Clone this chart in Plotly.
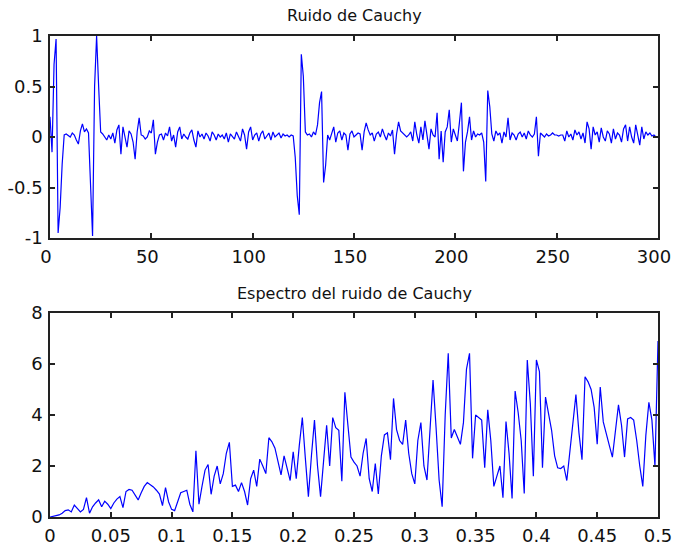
import plotly.graph_objects as go

# ---- data: top panel (Cauchy noise samples, n = 0..299) ----
noise_values = [
    0.20, -0.15, 0.72, 0.97, -0.95, -0.70, -0.27, 0.02, 0.03, 0.01,
    0.00, 0.04, 0.02, -0.03, -0.07, 0.06, 0.13, 0.05, 0.08, 0.04,
    -0.50, -0.98, 0.50, 1.00, 0.50, 0.05, 0.03, 0.00, -0.03, 0.02,
    -0.02, 0.04, -0.06, 0.07, 0.12, -0.17, 0.10, 0.00, -0.10, 0.06,
    0.03, -0.05, -0.22, 0.05, 0.19, 0.02, 0.01, -0.02, 0.00, 0.06,
    0.04, 0.17, -0.17, -0.05, 0.02, 0.03, -0.03, 0.04, 0.01, 0.10,
    -0.04, 0.02, -0.10, 0.05, 0.10, -0.02, 0.03, 0.00, -0.02, 0.04,
    0.07, -0.03, -0.10, 0.06, 0.00, 0.03, -0.02, 0.04, 0.01, -0.04,
    0.05, 0.02, -0.03, 0.03, 0.00, 0.02, -0.02, 0.04, -0.05, 0.03,
    0.01, -0.02, 0.05, 0.00, -0.04, 0.08, 0.02, -0.12, 0.05, 0.10,
    -0.03, 0.02, 0.04, -0.04, 0.03, 0.06, -0.02, 0.01, 0.04, -0.03,
    0.05, 0.00, 0.02, 0.04, -0.01, 0.03, 0.01, 0.02, 0.00, 0.02,
    0.01, -0.20, -0.58, -0.77, 0.82, 0.60, 0.05, 0.02, 0.03, 0.00,
    0.05, 0.02, 0.12, 0.34, 0.45, -0.45, -0.28, 0.02, -0.03, 0.05,
    0.10, -0.05, 0.04, 0.06, -0.03, 0.04, 0.02, -0.13, 0.03, 0.06,
    0.00, 0.02, 0.04, 0.03, -0.13, 0.05, 0.14, 0.07, 0.02, 0.04,
    -0.04, 0.03, 0.05, 0.00, 0.08, 0.02, -0.03, 0.04, 0.01, 0.07,
    -0.17, 0.03, 0.15, 0.06, 0.04, 0.02, 0.00, 0.02, 0.05, -0.04,
    0.15, 0.02, -0.06, 0.10, -0.03, 0.16, 0.04, -0.12, 0.08, 0.02,
    0.00, 0.24, -0.22, 0.06, -0.25, 0.05, 0.10, 0.27, -0.05, 0.08,
    0.02, -0.04, 0.14, 0.34, -0.34, -0.05, 0.05, 0.20, -0.03, 0.06,
    0.00, 0.03, 0.02, 0.04, -0.05, -0.44, 0.46, 0.30, 0.03, -0.04,
    0.06, 0.02, 0.04, -0.06, 0.05, 0.00, 0.19, -0.03, 0.04, 0.02,
    -0.03, 0.03, 0.05, 0.00, 0.04, -0.02, 0.06, 0.02, 0.00, 0.03,
    0.20, -0.19, 0.04, 0.02, 0.00, 0.03, 0.01, 0.02, 0.04, 0.02,
    0.02, 0.01, 0.02, 0.02, -0.04, 0.06, 0.00, 0.03, -0.03, 0.07,
    0.02, 0.05, -0.02, 0.04, -0.06, 0.15, 0.08, -0.12, 0.10, 0.02,
    0.05, -0.05, 0.09, 0.00, -0.04, 0.06, 0.03, -0.06, 0.08, -0.02,
    0.04, 0.02, -0.05, 0.08, 0.12, -0.04, 0.10, 0.00, -0.06, 0.12,
    0.03, -0.08, 0.10, -0.02, 0.05, 0.02, 0.04, 0.01, 0.02, 0.00,
]
sample_index = list(range(0, len(noise_values)))

# ---- data: bottom panel (spectrum, f = 0 .. 0.5 step 0.0025) ----
spectrum_values = [
    0.00, 0.02, 0.05, 0.08, 0.15, 0.25, 0.28, 0.20, 0.47, 0.35,
    0.20, 0.30, 0.76, 0.15, 0.40, 0.55, 0.67, 0.40, 0.62, 0.50,
    0.33, 0.55, 0.70, 0.80, 0.37, 1.00, 1.08, 1.05, 0.85, 0.67,
    0.95, 1.20, 1.35, 1.28, 1.18, 1.05, 0.90, 0.45, 1.15, 0.60,
    0.30, 0.25, 0.60, 0.95, 1.00, 1.05, 0.50, 0.20, 2.60, 0.50,
    1.20, 1.84, 2.06, 0.89, 1.60, 2.00, 1.30, 1.70, 2.50, 2.93,
    1.20, 1.25, 1.00, 1.35, 1.00, 0.47, 1.50, 1.84, 1.20, 2.27,
    2.00, 1.70, 3.11, 2.95, 2.70, 2.20, 1.65, 2.40, 1.90, 1.43,
    2.56, 1.50, 2.80, 3.90, 2.30, 0.80, 2.40, 3.80, 2.00, 0.80,
    2.20, 3.60, 2.00, 3.90, 3.50, 3.40, 1.40, 4.89, 3.60, 2.35,
    2.15, 2.00, 1.60, 2.50, 3.08, 1.50, 1.00, 2.10, 0.90, 2.40,
    3.22, 3.30, 2.25, 4.65, 3.43, 3.00, 2.85, 3.80, 2.50, 1.70,
    1.30, 3.00, 3.70, 2.00, 1.45, 3.40, 5.37, 3.50, 1.45, 0.40,
    4.00, 6.42, 3.10, 3.43, 3.10, 2.85, 3.70, 5.80, 6.42, 2.30,
    4.00, 3.90, 3.80, 1.93, 4.20, 3.00, 1.20, 1.60, 2.00, 0.76,
    3.74, 2.50, 0.73, 4.94, 4.10, 3.00, 0.92, 6.16, 4.45, 1.60,
    6.16, 5.70, 1.93, 4.70, 4.00, 3.40, 2.40, 1.93, 1.90, 2.00,
    1.43, 2.50, 3.50, 4.80, 3.30, 2.25, 5.50, 5.30, 5.00, 4.30,
    2.85, 5.10, 3.73, 3.20, 2.80, 2.35, 3.30, 4.40, 3.60, 2.35,
    3.85, 3.90, 3.80, 3.00, 2.00, 1.20, 3.20, 4.50, 3.80, 2.00,
    6.90,
]
freq_step = 0.0025
frequencies = [i * freq_step for i in range(len(spectrum_values))]

top_title = "Ruido de Cauchy"
bottom_title = "Espectro del ruido de Cauchy"
top_xticks = [0, 50, 100, 150, 200, 250, 300]
top_yticks = [-1, -0.5, 0, 0.5, 1]
top_yticklabels = ["-1", "-0.5", "0", "0.5", "1"]
bottom_xticks = [0, 0.05, 0.1, 0.15, 0.2, 0.25, 0.3, 0.35, 0.4, 0.45, 0.5]
bottom_xticklabels = ["0", "0.05", "0.1", "0.15", "0.2", "0.25", "0.3", "0.35", "0.4", "0.45", "0.5"]
bottom_yticks = [0, 2, 4, 6, 8]

W, H = 673, 546
fig = go.Figure()
fig.add_trace(go.Scatter(x=sample_index, y=noise_values, mode="lines",
                         line=dict(color="#0000ff", width=1.2), xaxis="x", yaxis="y"))
fig.add_trace(go.Scatter(x=frequencies, y=spectrum_values, mode="lines",
                         line=dict(color="#0000ff", width=1.2), xaxis="x2", yaxis="y2"))

tick_font = dict(family="DejaVu Sans, sans-serif", size=18, color="#111111")
title_font = dict(family="DejaVu Sans, sans-serif", size=16, color="#111111")
axis_common = dict(showline=True, linecolor="#222222", linewidth=1.5, mirror="ticks",
                   ticks="inside", ticklen=5, tickwidth=1.5, tickcolor="#222222", showgrid=False,
                   zeroline=False, tickfont=tick_font, automargin=False, ticklabelstandoff=2,
                   ticklabeloverflow="allow")

x0, x1 = 50 / W, 658 / W
fig.update_layout(
    width=W, height=H, margin=dict(l=0, r=0, t=0, b=0, pad=0, autoexpand=False),
    paper_bgcolor="white", plot_bgcolor="white", showlegend=False, font=tick_font,
    xaxis=dict(domain=[x0, x1], range=[0, 300], tickvals=top_xticks, anchor="y",
               ticklabelshift=-4, **axis_common),
    yaxis=dict(domain=[1 - 238 / H, 1 - 36 / H], range=[-1, 1], tickvals=top_yticks,
               ticktext=top_yticklabels, anchor="x", **axis_common),
    xaxis2=dict(domain=[x0, x1], range=[0, 0.5], tickvals=bottom_xticks,
                ticktext=bottom_xticklabels, anchor="y2", **axis_common),
    yaxis2=dict(domain=[1 - 517 / H, 1 - 313 / H], range=[0, 8], tickvals=bottom_yticks,
                anchor="x2", **axis_common),
    annotations=[
        dict(text=top_title, x=(x0 + x1) / 2, y=1 - 15 / H, xref="paper", yref="paper",
             showarrow=False, font=title_font, xanchor="center", yanchor="middle"),
        dict(text=bottom_title, x=(x0 + x1) / 2, y=1 - 293 / H, xref="paper", yref="paper",
             showarrow=False, font=title_font, xanchor="center", yanchor="middle"),
    ],
)
fig.write_html("out.html")
